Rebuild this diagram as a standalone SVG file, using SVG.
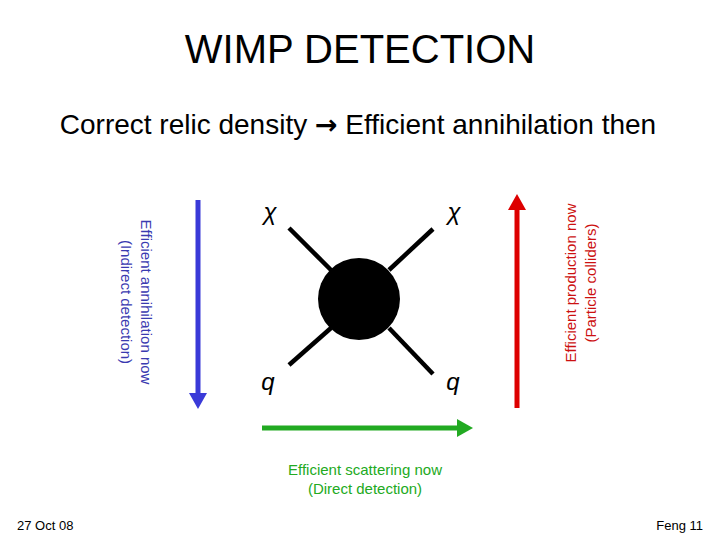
<svg xmlns="http://www.w3.org/2000/svg" width="720" height="540" viewBox="0 0 720 540">
<style>
text{font-family:"Liberation Sans",Arial,sans-serif}
.leg{stroke:#000;stroke-width:4.5;stroke-linecap:butt}
.lbl{font-size:24px;fill:#000}
.sm{font-size:15px}
</style>
<defs>
<marker id="hb" markerWidth="3.4" markerHeight="3.6" refX="0.8" refY="1.8" orient="auto" markerUnits="strokeWidth"><path d="M0,0 L3.2,1.8 L0,3.6 Z" fill="#3a3ad8"/></marker>
<marker id="hr" markerWidth="3.4" markerHeight="3.6" refX="0.8" refY="1.8" orient="auto" markerUnits="strokeWidth"><path d="M0,0 L3.2,1.8 L0,3.6 Z" fill="#dd0000"/></marker>
<marker id="hg" markerWidth="3.4" markerHeight="3.6" refX="0.8" refY="1.8" orient="auto" markerUnits="strokeWidth"><path d="M0,0 L3.2,1.8 L0,3.6 Z" fill="#22aa22"/></marker>
</defs>
<rect width="720" height="540" fill="#fff"/>
<text x="360" y="63" text-anchor="middle" font-size="40">WIMP DETECTION</text>
<text x="358" y="134" text-anchor="middle" font-size="28">Correct relic density <tspan font-family="'DejaVu Sans',sans-serif" font-weight="bold" font-size="27">→</tspan> Efficient annihilation then</text>
<g id="connectors">
<line x1="198" y1="200" x2="198" y2="397" stroke="#3a3ad8" stroke-width="5" marker-end="url(#hb)"/>
<line x1="517" y1="408" x2="517" y2="206" stroke="#dd0000" stroke-width="5" marker-end="url(#hr)"/>
<line x1="262" y1="428" x2="461" y2="428" stroke="#22aa22" stroke-width="5" marker-end="url(#hg)"/>
</g>
<g id="diagram">
<line class="leg" x1="289" y1="228" x2="331" y2="270"/>
<line class="leg" x1="433" y1="229" x2="389" y2="270"/>
<line class="leg" x1="289" y1="365" x2="331" y2="328"/>
<line class="leg" x1="433" y1="374" x2="389" y2="328"/>
<circle cx="359" cy="299" r="41" fill="#000"/>
<text class="lbl" x="270" y="220" text-anchor="middle" font-family="'DejaVu Serif',serif" font-style="italic">χ</text>
<text class="lbl" x="454" y="220" text-anchor="middle" font-family="'DejaVu Serif',serif" font-style="italic">χ</text>
<text class="lbl" x="268" y="390" text-anchor="middle" font-family="'Liberation Serif',serif" font-style="italic">q</text>
<text class="lbl" x="453" y="390" text-anchor="middle" font-family="'Liberation Serif',serif" font-style="italic">q</text>
</g>
<g id="indirect">
<text class="sm" fill="#3a3ab0" text-anchor="middle" transform="translate(141,302) rotate(90)">Efficient annihilation now</text>
<text class="sm" fill="#3a3ab0" text-anchor="middle" transform="translate(121,302) rotate(90)">(Indirect detection)</text>
</g>
<g id="colliders">
<text class="sm" fill="#cc1111" text-anchor="middle" transform="translate(576,283) rotate(-90)">Efficient production now</text>
<text class="sm" fill="#cc1111" text-anchor="middle" transform="translate(596,283) rotate(-90)">(Particle colliders)</text>
</g>
<g id="direct">
<text class="sm" fill="#22aa22" text-anchor="middle" x="365" y="475">Efficient scattering now</text>
<text class="sm" fill="#22aa22" text-anchor="middle" x="365" y="494">(Direct detection)</text>
</g>
<text x="17" y="530" font-size="13">27 Oct 08</text>
<text x="703" y="530" font-size="13" text-anchor="end">Feng 11</text>
</svg>
